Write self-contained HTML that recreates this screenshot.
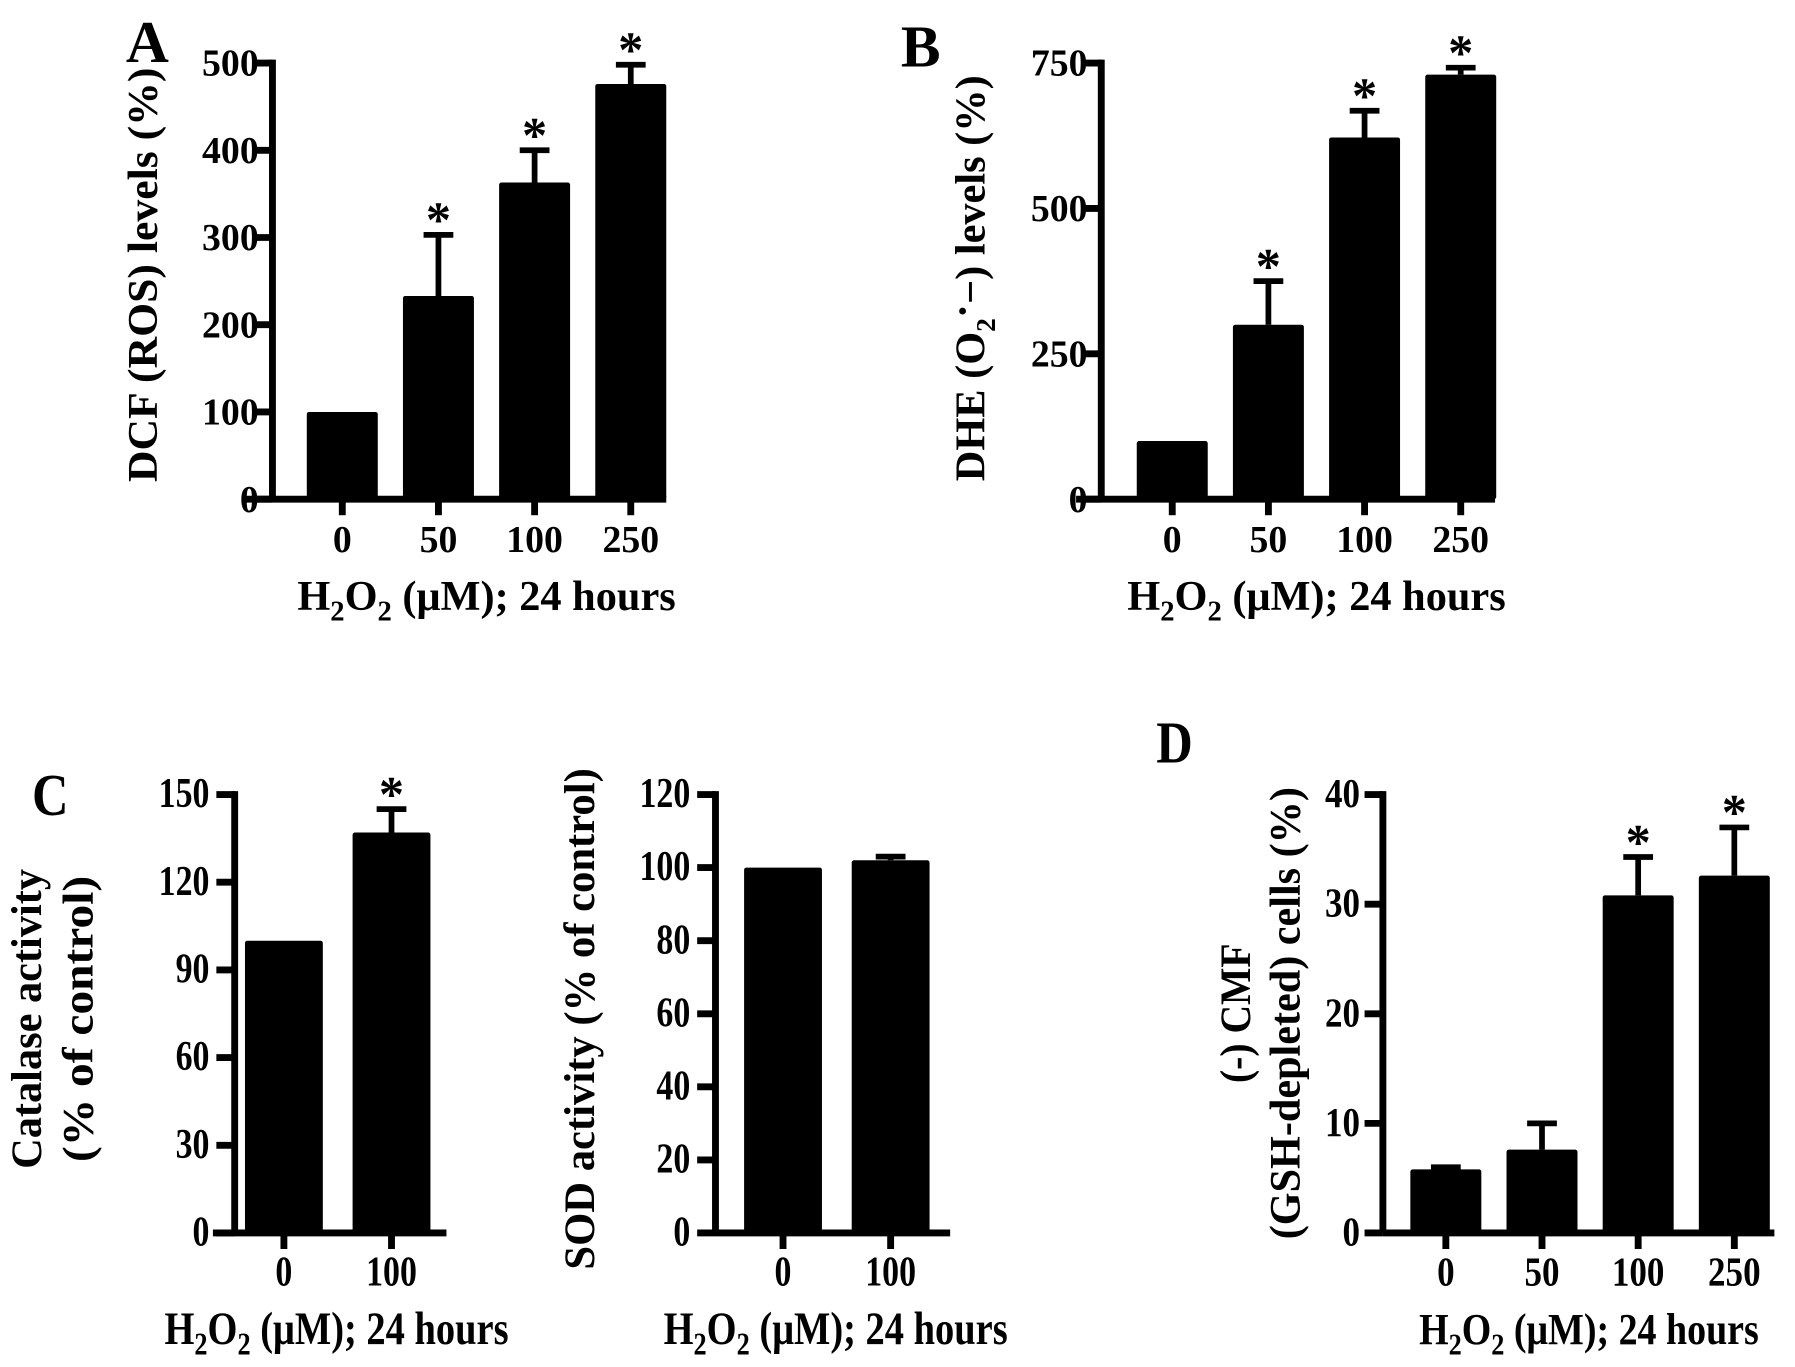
<!DOCTYPE html>
<html><head><meta charset="utf-8"><style>
html,body{margin:0;padding:0;background:#fff}
svg{display:block}
text{font-family:"Liberation Serif",serif;font-weight:bold;fill:#000}
</style></head><body>
<svg id="fig" width="1795" height="1367" viewBox="0 0 1568 1194" xmlns="http://www.w3.org/2000/svg">
<text x="110" y="54" font-size="52">A</text>
<text x="787" y="58" font-size="52">B</text>
<text x="28" y="712" font-size="52" transform="translate(28 0) scale(0.85 1) translate(-28 0)">C</text>
<text x="1010" y="666" font-size="52" transform="translate(1010 0) scale(0.85 1) translate(-1010 0)">D</text>
</svg>
<script>
// Panel A data
const catsA = ["0","50","100","250"];
const valsA = [100, 233, 363, 476];
const errA = [0, 303, 400, 498];
const starA = [false, true, true, true];
const ticksA = [0,100,200,300,400,500];
// Panel B data
const catsB = ["0","50","100","250"];
const valsB = [100, 300, 622, 730];
const errB = [0, 375, 668, 742];
const starB = [false, true, true, true];
const ticksB = [0,250,500,750];
// Panel C1 data
const catsC1 = ["0","100"];
const valsC1 = [100, 137];
const errC1 = [0, 145];
const starC1 = [false, true];
const ticksC1 = [0,30,60,90,120,150];
// Panel C2 data
const catsC2 = ["0","100"];
const valsC2 = [100, 102];
const errC2 = [0, 103];
const starC2 = [false, false];
const ticksC2 = [0,20,40,60,80,100,120];
// Panel D data
const catsD = ["0","50","100","250"];
const valsD = [5.8, 7.6, 30.8, 32.6];
const errD = [6.0, 10.0, 34.3, 37.0];
const starD = [false, false, true, true];
const ticksD = [0,10,20,30,40];

const svg = document.getElementById('fig');
const NS = 'http://www.w3.org/2000/svg';
function mk(tag, attrs, parent){
  const e = document.createElementNS(NS, tag);
  for (const k in attrs) e.setAttribute(k, attrs[k]);
  (parent||svg).appendChild(e);
  return e;
}
function panel(cfg){
  const g = mk('g', {});
  
  
  const max = cfg.ticks[cfg.ticks.length-1];
  const y = v => cfg.y0 - (v/max)*(cfg.y0-cfg.yTop);
  const x = i => cfg.x0 + i*cfg.step;
  const sx = cfg.sx || 1;
  const tsx = cfg.tsx || 1;
  const tf = (px, s) => s===1 ? '' : `translate(${px} 0) scale(${s} 1) translate(${-px} 0)`;
  const fs = cfg.fs || 33;
  cfg.vals.forEach((v,i)=>{
    const r = mk('rect', {x: x(i)-cfg.bw/2, y: y(v), width: cfg.bw, height: cfg.y0-y(v), fill:'#000', rx:2}, g);
    
    
    if (cfg.err[i] > v){
      const l = mk('path', {d:`M${x(i)} ${y(v)} V${y(cfg.err[i])} M${x(i)-13} ${y(cfg.err[i])} H${x(i)+13}`, stroke:'#000', 'stroke-width':5, fill:'none'}, g);
      
      
    }
    if (cfg.star[i]){
      const top = Math.max(cfg.err[i], v);
      const t = mk('text', {x:x(i), y:y(top)+2, 'font-size':44, 'text-anchor':'middle'}, g);
      t.textContent = '*';
      
      
    }
  });
  const ax = mk('path', {d:`M${cfg.ax} ${cfg.yTop-3} V${cfg.y0} M${cfg.xStart} ${cfg.y0} H${cfg.xEnd}`, stroke:'#000','stroke-width':6, fill:'none'}, g);
  
  
  cfg.ticks.forEach(t=>{
    const tk = mk('path', {d:`M${cfg.ax-cfg.tl} ${y(t)} H${cfg.ax}`, stroke:'#000','stroke-width':6}, g);
    
    
    const px = cfg.ax-cfg.lg;
    const tl = mk('text', {x:px, y:y(t)+11, 'font-size':fs, 'text-anchor':'end', transform: tf(px, tsx)}, g);
    tl.textContent = t;
    
    
  });
  cfg.cats.forEach((c,i)=>{
    const tk = mk('path', {d:`M${x(i)} ${cfg.y0} V${cfg.y0+14}`, stroke:'#000','stroke-width':6}, g);
    
    
    const tl = mk('text', {x:x(i), y:cfg.y0+46, 'font-size':fs, 'text-anchor':'middle', transform: tf(x(i), tsx)}, g);
    tl.textContent = c;
    
    
  });
  const xf = cfg.xfs || 37;
  const xt = mk('text', {x:cfg.xtX, y:cfg.y0+97, 'font-size':xf, 'text-anchor':'middle', transform: tf(cfg.xtX, sx)}, g);
  xt.innerHTML = 'H<tspan font-size="'+Math.round(xf*0.68)+'" dy="9">2</tspan><tspan dy="-9">O</tspan><tspan font-size="'+Math.round(xf*0.68)+'" dy="9">2</tspan><tspan dy="-9"> (μM); 24 hours</tspan>';
  
  
  cfg.ytitle.forEach((line, li)=>{
    const cx = cfg.ytX[li], cy = cfg.ytY;
    const yt = mk('text', {x:0, y:0, 'font-size':cfg.yfs||37, 'text-anchor':'middle', transform:`translate(${cx} ${cy}) rotate(-90)`}, g);
    yt.innerHTML = line;
    if (cfg.ytLen) { yt.setAttribute('textLength', cfg.ytLen[li]); yt.setAttribute('lengthAdjust','spacingAndGlyphs'); }
    
    
  });
}
panel({name:'panel-a-dcf', cats:catsA, vals:valsA, err:errA, star:starA, ticks:ticksA,
  y0:436, yTop:55, ax:238, xStart:215, xEnd:582, x0:299, step:84, bw:62, xtX:425, tl:14, lg:12, fs:33,
  ytitle:['DCF (ROS) levels (%)'], ytX:[137], ytY:240, ytLen:[362]});
panel({name:'panel-b-dhe', cats:catsB, vals:valsB, err:errB, star:starB, ticks:ticksB,
  y0:436, yTop:55, ax:962, xStart:940, xEnd:1306, x0:1024, step:84, bw:62, xtX:1150, tl:14, lg:12, fs:33,
  ytitle:['DHE (O<tspan font-size="24" dy="9">2</tspan><tspan dy="-16">·</tspan><tspan dy="7">−) levels (%)</tspan>'], ytX:[860], ytY:243});
panel({name:'panel-c-catalase', cats:catsC1, vals:valsC1, err:errC1, star:starC1, ticks:ticksC1,
  y0:1077, yTop:694, ax:205, xStart:186, xEnd:390, x0:248, step:94, bw:68, xtX:294, sx:0.82, tsx:0.8, xfs:41, tl:16, lg:22, fs:37,
  ytitle:['Catalase activity','(% of control)'], ytX:[36,81], ytY:890, ytLen:[262,250], yfs:38});
panel({name:'panel-c-sod', cats:catsC2, vals:valsC2, err:errC2, star:starC2, ticks:ticksC2,
  y0:1077, yTop:694, ax:625, xStart:625, xEnd:830, x0:684, step:94, bw:68, xtX:730, sx:0.82, tsx:0.8, xfs:41, tl:16, lg:22, fs:37,
  ytitle:['SOD activity (% of control)'], ytX:[519], ytY:890, ytLen:[438], yfs:38});
panel({name:'panel-d-cmf', cats:catsD, vals:valsD, err:errD, star:starD, ticks:ticksD,
  y0:1077, yTop:694, ax:1208, xStart:1208, xEnd:1550, x0:1263, step:84, bw:62, xtX:1388, sx:0.85, tsx:0.85, xfs:39, tl:16, lg:20, fs:36,
  ytitle:['(-) CMF','(GSH-depleted) cells (%)'], ytX:[1092,1135], ytY:885, ytLen:[122,395], yfs:38});
</script>
</body></html>
